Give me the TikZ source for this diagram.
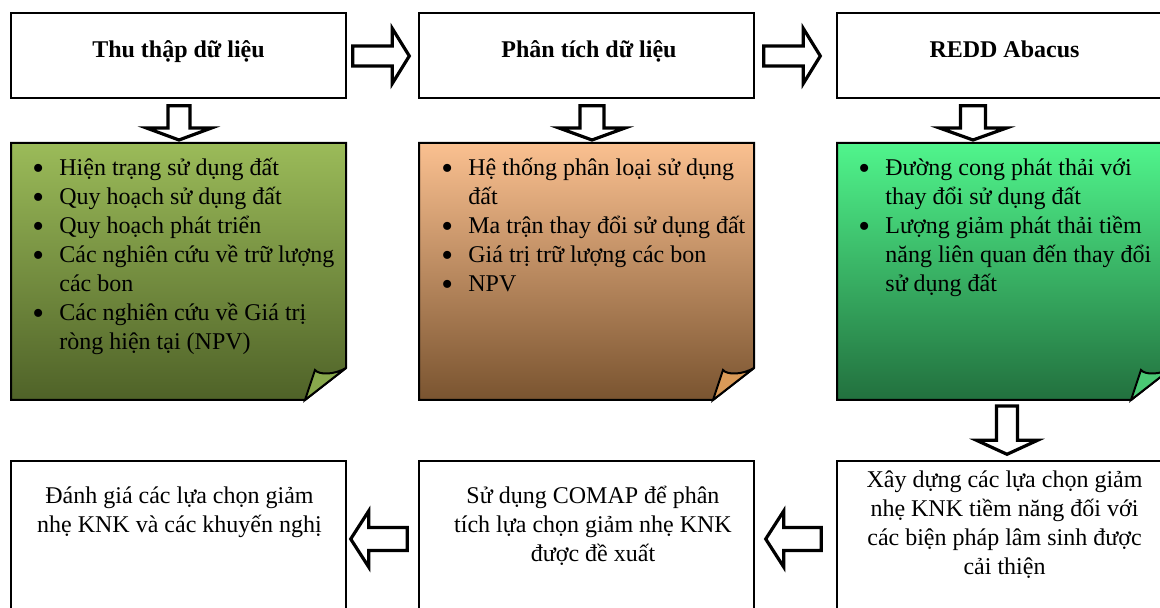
\documentclass[tikz,border=0pt]{standalone}
\usepackage{fontspec}
\setmainfont{Liberation Serif}
\usetikzlibrary{calc}
\definecolor{olivetop}{HTML}{9BBB59}
\definecolor{olivebot}{HTML}{4F6228}
\definecolor{olivefold}{HTML}{88A84C}
\definecolor{orangetop}{HTML}{FAC090}
\definecolor{orangebot}{HTML}{7A5430}
\definecolor{orangefold}{HTML}{D99A58}
\definecolor{greentop}{HTML}{50F58C}
\definecolor{greenbot}{HTML}{22703E}
\definecolor{greenfold}{HTML}{4AC874}
% block arrow: tail, tip, half shaft width, half head width, head length
\newcommand\blockarrow[5]{%
  \draw[barrow] let \p1=(#1), \p2=(#2), \p3=($(#2)!#5!(#1)$),
     \n1={atan2(\y2-\y1,\x2-\x1)} in
     ($(\p1)+(\n1+90:#3)$) -- ($(\p3)+(\n1+90:#3)$) -- ($(\p3)+(\n1+90:#4)$)
     -- (\p2) -- ($(\p3)+(\n1-90:#4)$) -- ($(\p3)+(\n1-90:#3)$)
     -- ($(\p1)+(\n1-90:#3)$) -- cycle;}
% note paper with folded corner: x1,y1,x2,y2 (px), top, bottom, fold colour
\newcommand\notepaper[7]{%
  \shade[top color=#5,bottom color=#6] (#1,#2) -- (#3,#2) -- (#3,#4-32) -- (#3-41,#4) -- (#1,#4) -- cycle;
  \draw[noteline] (#1,#2) -- (#3,#2) -- (#3,#4-32) -- (#3-41,#4) -- (#1,#4) -- cycle;
  \filldraw[noteline,fill=#7] (#3-41,#4) -- (#3-31,#4-30)
     .. controls (#3-27,#4-25) and (#3-12,#4-25) .. (#3,#4-32) -- cycle;}
\newcommand\bul{\makebox[13.5pt][l]{\raisebox{-1.7pt}[0pt][0pt]{\scalebox{1.4}{\textbullet}}}}
\begin{document}
\begin{tikzpicture}[x=0.5pt,y=-0.5pt,
  box/.style={draw=black, line width=0.7pt, fill=white, rectangle, inner sep=0pt,
              minimum width=167.5pt},
  topbox/.style={box, minimum height=42.5pt},
  botbox/.style={box, minimum height=89.5pt},
  barrow/.style={draw=black, fill=white, line width=1.6pt, line join=miter},
  noteline/.style={draw=black, line width=1pt, line join=miter},
  txt/.style={font=\fontsize{12}{14.5}\selectfont, inner sep=0pt, align=center, anchor=base},
  ttl/.style={txt, font=\bfseries\fontsize{12}{14.5}\selectfont},
  notetxt/.style={font=\fontsize{12}{14.5}\selectfont, inner sep=0pt, anchor=base west}]
\useasboundingbox (0,0) rectangle (1160,608);
\clip (0,0) rectangle (1160,608);

% top boxes
\node[topbox] (b1) at (178.5,55.5) {};
\node[topbox] (b2) at (586.5,55.5) {};
\node[topbox] (b3) at (1004.5,55.5) {};
\node[ttl] (t1) at (178.5,57.5) {Thu thập dữ liệu};
\node[ttl] (t2) at (589,57.5) {Phân tích dữ liệu};
\node[ttl] (t3) at (1004.5,57.5) {REDD Abacus};

% notes
\coordinate (note1) at (178.5,143);
\coordinate (note2) at (586.5,143);
\coordinate (note3) at (1004.5,143);
\coordinate (note3b) at (1004.5,400);
\notepaper{11}{143}{346}{400}{olivetop}{olivebot}{olivefold}
\notepaper{419}{143}{754}{400}{orangetop}{orangebot}{orangefold}
\notepaper{837}{143}{1172}{400}{greentop}{greenbot}{greenfold}

\node[notetxt] (n1) at (32,176) {\begin{tabular}[t]{@{}l@{}l@{}}
\bul & Hiện trạng sử dụng đất\\
\bul & Quy hoạch sử dụng đất\\
\bul & Quy hoạch phát triển\\
\bul & Các nghiên cứu về trữ lượng\\
     & các bon\\
\bul & Các nghiên cứu về Giá trị\\
     & ròng hiện tại (NPV)
\end{tabular}};
\node[notetxt] (n2) at (441,176) {\begin{tabular}[t]{@{}l@{}l@{}}
\bul & Hệ thống phân loại sử dụng\\
     & đất\\
\bul & Ma trận thay đổi sử dụng đất\\
\bul & Giá trị trữ lượng các bon\\
\bul & NPV
\end{tabular}};
\node[notetxt] (n3) at (858,176) {\begin{tabular}[t]{@{}l@{}l@{}}
\bul & Đường cong phát thải với\\
     & thay đổi sử dụng đất\\
\bul & Lượng giảm phát thải tiềm\\
     & năng liên quan đến thay đổi\\
     & sử dụng đất
\end{tabular}};

% bottom boxes
\node[botbox] (b4) at (178.5,550.5) {};
\node[botbox] (b5) at (586.5,550.5) {};
\node[botbox] (b6) at (1004.5,550.5) {};
% anchor=base sits on the last line's baseline
\node[txt] (t4) at (179.5,532) {Đánh giá các lựa chọn giảm\\nhẹ KNK và các khuyến nghị};
\node[txt] (t5) at (593,561) {Sử dụng COMAP để phân\\tích lựa chọn giảm nhẹ KNK\\được đề xuất};
\node[txt] (t6) at (1004.5,574.5) {Xây dựng các lựa chọn giảm\\nhẹ KNK tiềm năng đối với\\các biện pháp lâm sinh được\\cải thiện};

% block arrows
\blockarrow{$(b1.east)+(6,0.5)$}{$(b2.west)+(-9,0.5)$}{5pt}{13.75pt}{8.5pt}
\blockarrow{$(b2.east)+(9,0.5)$}{$(b3.west)+(-16,0.5)$}{5pt}{13.75pt}{8.5pt}
\blockarrow{$(b1.south)+(0.5,7)$}{$(note1)+(0.5,-3)$}{5.5pt}{16.25pt}{6pt}
\blockarrow{$(b2.south)+(5.5,7)$}{$(note2)+(5.5,-3)$}{6pt}{16.5pt}{6pt}
\blockarrow{$(b3.south)+(-31.5,7)$}{$(note3)+(-31.5,-3)$}{6.25pt}{16.75pt}{6pt}
\blockarrow{$(note3b)+(2.5,6)$}{$(b6.north)+(2.5,-6)$}{5.25pt}{15.25pt}{7pt}
\blockarrow{$(b6.west)+(-15,-11.5)$}{$(b5.east)+(11,-11.5)$}{5.75pt}{14pt}{9pt}
\blockarrow{$(b5.west)+(-11,-11.5)$}{$(b4.east)+(4,-11.5)$}{5.75pt}{14pt}{9pt}
\end{tikzpicture}
\end{document}
